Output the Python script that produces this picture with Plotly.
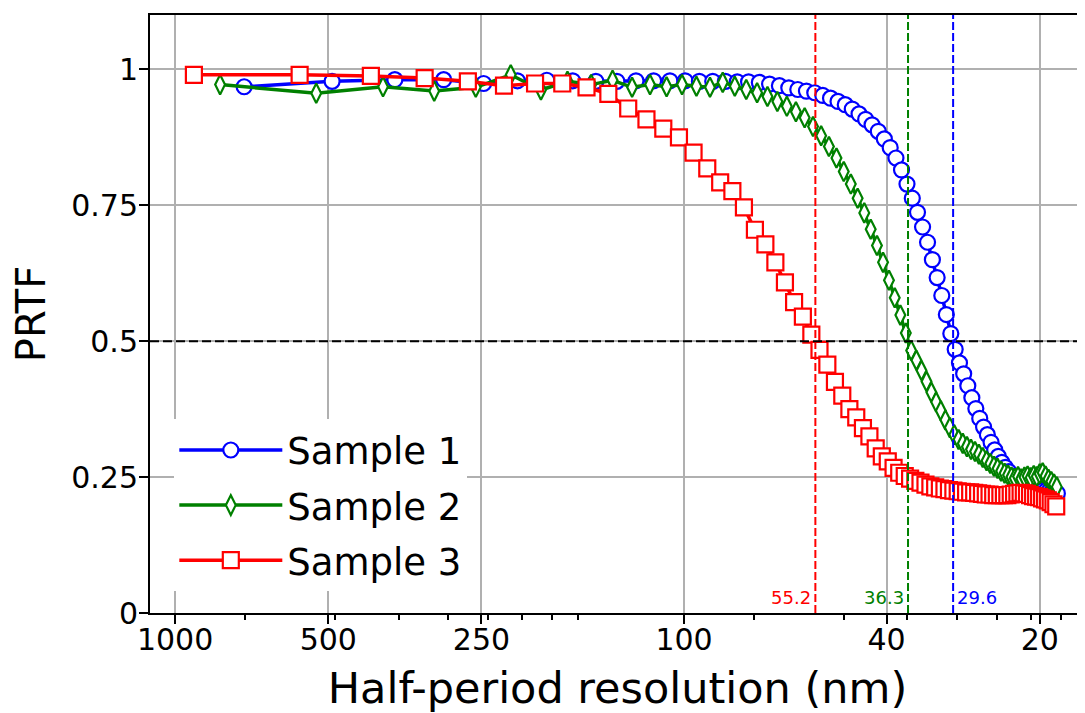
import math
import plotly.graph_objects as go

# spatial frequency of each PRTF sample point (1/um); half-period resolution (nm) = 1000 / freq
freq_s1 = [
    1.367, 2.035, 2.703, 3.371, 4.039, 4.707, 5.375, 6.043, 6.711, 7.379,
    8.047, 8.715, 9.383, 10.051, 10.719, 11.387, 12.055, 12.723, 13.391, 14.059,
    14.727, 15.395, 16.063, 16.731, 17.399, 18.067, 18.735, 19.403, 20.071, 20.739,
    21.407, 22.075, 22.743, 23.411, 24.079, 24.747, 25.415, 26.083, 26.751, 27.419,
    28.087, 28.755, 29.423, 30.091, 30.759, 31.427, 32.095, 32.763, 33.431, 34.099,
    34.767, 35.435, 36.103, 36.771, 37.439, 38.107, 38.775, 39.443, 40.111, 40.779,
    41.447, 42.115, 42.783, 43.451, 44.119, 44.787, 45.455, 46.123, 46.791, 47.459,
    48.127, 48.795, 49.463, 50.131, 50.799, 51.467, 52.135, 52.803, 53.471, 54.139,
]
prtf_s1 = [
    0.968, 0.978, 0.981, 0.981, 0.974, 0.979, 0.980, 0.979, 0.978, 0.978,
    0.979, 0.979, 0.979, 0.979, 0.978, 0.978, 0.978, 0.977, 0.977, 0.976,
    0.973, 0.970, 0.966, 0.963, 0.960, 0.957, 0.952, 0.947, 0.941, 0.935,
    0.927, 0.918, 0.908, 0.898, 0.886, 0.872, 0.856, 0.837, 0.815, 0.789,
    0.763, 0.737, 0.710, 0.682, 0.650, 0.617, 0.584, 0.549, 0.514, 0.485,
    0.460, 0.440, 0.418, 0.396, 0.376, 0.358, 0.342, 0.328, 0.314, 0.300,
    0.288, 0.277, 0.268, 0.260, 0.252, 0.246, 0.241, 0.237, 0.234, 0.232,
    0.230, 0.229, 0.228, 0.227, 0.226, 0.225, 0.224, 0.223, 0.222, 0.220,
]

freq_s2 = [
    1.226, 1.894, 2.562, 3.230, 3.898, 4.566, 5.234, 5.902, 6.570, 7.238,
    7.906, 8.574, 9.242, 9.910, 10.578, 11.246, 11.914, 12.582, 13.250, 13.918,
    14.586, 15.254, 15.922, 16.590, 17.258, 17.926, 18.594, 19.262, 19.930, 20.598,
    21.266, 21.934, 22.602, 23.270, 23.938, 24.606, 25.274, 25.942, 26.610, 27.278,
    27.946, 28.614, 29.282, 29.950, 30.618, 31.286, 31.954, 32.622, 33.290, 33.958,
    34.626, 35.294, 35.962, 36.630, 37.298, 37.966, 38.634, 39.302, 39.970, 40.638,
    41.306, 41.974, 42.642, 43.310, 43.978, 44.646, 45.314, 45.982, 46.650, 47.318,
    47.986, 48.654, 49.322, 49.990, 50.658, 51.326, 51.994, 52.662, 53.330, 53.998,
]
prtf_s2 = [
    0.972, 0.956, 0.968, 0.960, 0.967, 0.990, 0.962, 0.978, 0.972, 0.980,
    0.967, 0.972, 0.968, 0.972, 0.969, 0.967, 0.976, 0.969, 0.963, 0.957,
    0.950, 0.941, 0.932, 0.922, 0.911, 0.895, 0.878, 0.858, 0.837, 0.812,
    0.789, 0.763, 0.736, 0.706, 0.676, 0.645, 0.612, 0.580, 0.548, 0.515,
    0.483, 0.465, 0.446, 0.426, 0.406, 0.388, 0.372, 0.355, 0.341, 0.328,
    0.319, 0.312, 0.306, 0.301, 0.297, 0.292, 0.286, 0.280, 0.275, 0.270,
    0.266, 0.261, 0.257, 0.254, 0.250, 0.248, 0.251, 0.247, 0.250, 0.252,
    0.249, 0.253, 0.251, 0.256, 0.258, 0.252, 0.246, 0.242, 0.237, 0.232,
]

freq_s3 = [
    1.089, 1.757, 2.425, 3.093, 3.761, 4.429, 5.097, 5.765, 6.433, 7.101,
    7.769, 8.437, 9.105, 9.773, 10.441, 11.109, 11.777, 12.445, 13.113, 13.781,
    14.449, 15.117, 15.785, 16.453, 17.121, 17.789, 18.457, 19.125, 19.793, 20.461,
    21.129, 21.797, 22.465, 23.133, 23.801, 24.469, 25.137, 25.805, 26.473, 27.141,
    27.809, 28.477, 29.145, 29.813, 30.481, 31.149, 31.817, 32.485, 33.153, 33.821,
    34.489, 35.157, 35.825, 36.493, 37.161, 37.829, 38.497, 39.165, 39.833, 40.501,
    41.169, 41.837, 42.505, 43.173, 43.841, 44.509, 45.177, 45.845, 46.513, 47.181,
    47.849, 48.517, 49.185, 49.853, 50.521, 51.189, 51.857, 52.525, 53.193, 53.861,
]
prtf_s3 = [
    0.990, 0.990, 0.988, 0.984, 0.978, 0.970, 0.974, 0.974, 0.967, 0.955,
    0.928, 0.908, 0.891, 0.875, 0.847, 0.818, 0.792, 0.776, 0.746, 0.705,
    0.678, 0.645, 0.608, 0.572, 0.545, 0.512, 0.484, 0.457, 0.425, 0.400,
    0.375, 0.360, 0.340, 0.325, 0.303, 0.288, 0.279, 0.267, 0.258, 0.252,
    0.247, 0.243, 0.240, 0.236, 0.233, 0.231, 0.229, 0.228, 0.226, 0.225,
    0.224, 0.223, 0.222, 0.222, 0.221, 0.220, 0.219, 0.218, 0.218, 0.217,
    0.217, 0.217, 0.217, 0.217, 0.218, 0.219, 0.220, 0.221, 0.220, 0.219,
    0.217, 0.215, 0.214, 0.213, 0.211, 0.209, 0.207, 0.204, 0.200, 0.196,
]

series_names = ["Sample 1", "Sample 2", "Sample 3"]
res_ticks = [1000, 500, 250, 100, 40, 20]
prtf_ticks = [0, 0.25, 0.5, 0.75, 1]
prtf_ticklabels = ["0", "0.25", "0.5", "0.75", "1"]
cutoff_res = [55.2, 36.3, 29.6]          # resolution where PRTF = 0.5 (nm)
threshold = 0.5
minor_mult = [2, 3, 4, 5, 6, 7, 8, 9, 20, 30, 40, 50, 60, 70, 80]
minor_unit = 0.687  # 1/um

BLUE, GREEN, RED = "#0000ff", "#008000", "#ff0000"
FONT = "DejaVu Sans"
Y_TOP = 1.1

fig = go.Figure()
styles = [
    (freq_s1, prtf_s1, BLUE, "circle", 15),
    (freq_s2, prtf_s2, GREEN, "diamond-tall", 14),
    (freq_s3, prtf_s3, RED, "square", 16),
]
for i, (fr, pr, col, sym, sz) in enumerate(styles):
    fig.add_trace(go.Scatter(
        x=[1000.0 / f for f in fr], y=pr, mode="lines+markers",
        name=series_names[i], legendgroup=f"g{i}",
        line=dict(color=col, width=3.5),
        marker=dict(symbol=sym, size=sz, color="white",
                    line=dict(color=col, width=2.2)),
    ))

# resolution cut-off lines (drawn above the data)
cut_cols = [RED, GREEN, BLUE]
sides = ["right", "right", "left"]
annotations = []
for v, c, s in zip(cutoff_res, cut_cols, sides):
    fig.add_trace(go.Scatter(
        x=[v, v], y=[0, Y_TOP], mode="lines", showlegend=False,
        hoverinfo="skip", line=dict(color=c, width=2, dash="8px,3px"),
    ))
    annotations.append(dict(x=math.log10(v), y=0, xref="x", yref="y", text=f"{v}",
                            showarrow=False, xanchor=s, yanchor="bottom",
                            xshift=-3 if s == "right" else 3, yshift=4,
                            borderpad=0,
                            font=dict(family=FONT, size=18, color=c)))

shapes = [dict(type="line", xref="paper", x0=0, x1=1, yref="y",
               y0=threshold, y1=threshold, layer="above",
               line=dict(color="black", width=2, dash="9px,4px"))]

fig.update_layout(
    width=1077, height=705,
    margin=dict(l=142, r=0, t=7, b=100),
    paper_bgcolor="white", plot_bgcolor="white",
    font=dict(family=FONT, color="black"),
    shapes=shapes, annotations=annotations,
    legend=dict(x=0.026, y=0.036, xanchor="left", yanchor="bottom",
                bgcolor="white", borderwidth=0, tracegroupgap=4,
                traceorder="grouped", itemwidth=103,
                font=dict(family=FONT, size=37, color="black")),
)
fig.update_xaxes(
    type="log", range=[math.log10(1120), math.log10(16.3)],
    tickvals=res_ticks, ticktext=[str(t) for t in res_ticks],
    ticks="outside", ticklen=9, tickwidth=2, tickcolor="black",
    showline=True, linecolor="black", linewidth=2, mirror=True,
    showgrid=True, gridcolor="#b0b0b0", gridwidth=1.5, zeroline=False,
    tickfont=dict(family=FONT, size=30, color="black"),
    ticklabelstandoff=-10,
    title=dict(text="Half-period resolution (nm)", standoff=18,
               font=dict(family=FONT, size=43, color="black")),
    minor=dict(tickvals=[1000.0 / (minor_unit * m) for m in minor_mult],
               ticks="outside", ticklen=5, tickwidth=1.5, tickcolor="black",
               showgrid=False),
    automargin=False,
)
fig.update_yaxes(
    range=[0, Y_TOP], tickvals=prtf_ticks, ticktext=prtf_ticklabels,
    ticks="outside", ticklen=9, tickwidth=2, tickcolor="black",
    showline=True, linecolor="black", linewidth=2,
    showgrid=True, gridcolor="#b0b0b0", gridwidth=1.5, zeroline=False,
    tickfont=dict(family=FONT, size=30, color="black"),
    ticklabelstandoff=-5,
    title=dict(text="PRTF", standoff=14,
               font=dict(family=FONT, size=40, color="black")),
    automargin=False,
)

fig.write_html("out.html")
